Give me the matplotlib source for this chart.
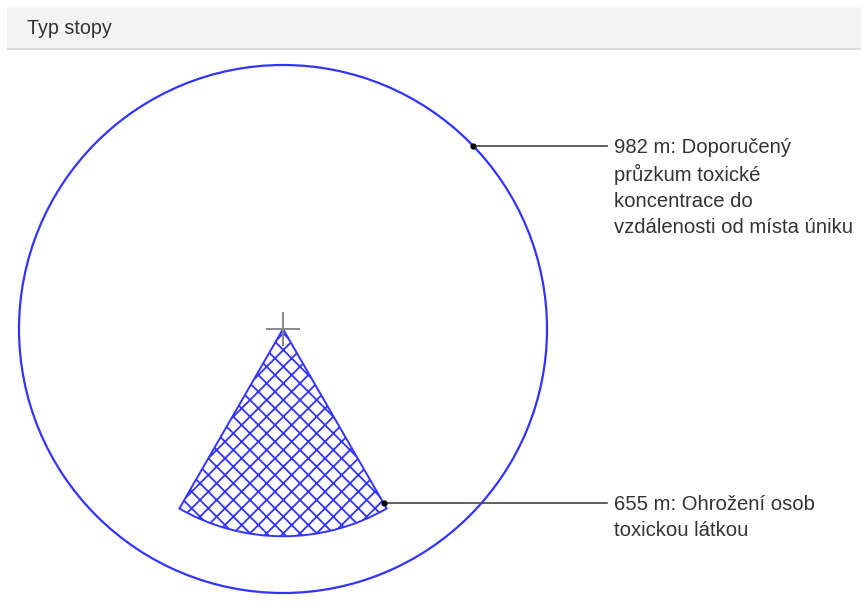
import numpy as np
import matplotlib.pyplot as plt
from matplotlib.patches import Circle, Wedge, Rectangle

# Chart data
title = "Typ stopy"
zone_labels = ["982 m: Doporučený\nprůzkum toxické\nkoncentrace do\nvzdálenosti od místa úniku",
               "655 m: Ohrožení osob\ntoxickou látkou"]
circle_r = 982          # outer circle radius (m)
sector_r = 771          # drawn radius of the hazard sector (m)
sector_dir = 270        # sector axis, degrees (pointing down)
sector_half = 30        # half opening angle, degrees
marker_angles = [44, 300]   # where the leader lines touch the shapes
marker_radii = [circle_r, sector_r * 0.97]

W, H = 862, 606
blue = "#3333ff"

plt.rcParams["font.family"] = ["Liberation Sans", "DejaVu Sans"]
plt.rcParams["hatch.linewidth"] = 1.3

fig = plt.figure(figsize=(W / 100, H / 100), dpi=100)

# header bar
fig.patches.append(Rectangle((7 / W, 1 - 48 / H), 1, 41 / H, transform=fig.transFigure,
                             facecolor="#f3f3f3", edgecolor="none", zorder=0))
fig.patches.append(Rectangle((7 / W, 1 - 49.5 / H), 1, 1.2 / H, transform=fig.transFigure,
                             facecolor="#dddddd", edgecolor="none", zorder=0))
fig.text(27 / W, 1 - 28.5 / H, title, fontsize=14.2, color="#333333", va="center", ha="left")

# drawing axes: pixel layout mapped to metres
cx, cy, r_px = 283, 329, 264
s = circle_r / r_px
ax = fig.add_axes([0, 0, 1, 1])
ax.set_xlim(-cx * s, (W - cx) * s)
ax.set_ylim((cy - H) * s, cy * s)
ax.axis("off")

ax.add_patch(Circle((0, 0), circle_r, fill=False, edgecolor=blue, lw=1.6))
ax.add_patch(Wedge((0, 0), sector_r, sector_dir - sector_half, sector_dir + sector_half,
                   facecolor="none", edgecolor=blue, lw=1.4, hatch="xx"))
ax.plot(0, 0, marker="+", ms=24, mew=1.4, color="#888888")

# leaders and labels
line_end = (607 - cx) * s
text_x = (614 - cx) * s
for lab, ang, rad in zip(zone_labels, marker_angles, marker_radii):
    px = rad * np.cos(np.radians(ang))
    py = rad * np.sin(np.radians(ang))
    ax.plot([px, line_end], [py, py], color="#444444", lw=1.2)
    ax.plot(px, py, "o", color="black", ms=3.5)
    ax.text(text_x, py + 8 * s, lab, fontsize=14.6, color="#333333",
            ha="left", va="top", linespacing=1.45)

fig.savefig("out.png", dpi=100)
